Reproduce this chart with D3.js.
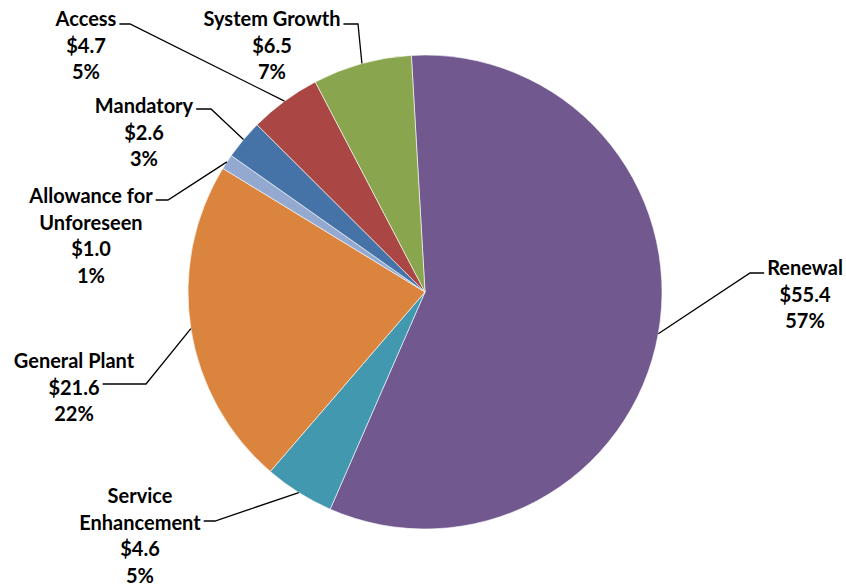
<!DOCTYPE html>
<html>
<head>
<meta charset="UTF-8">
<style>
body{
	margin: 0;
	background: #fff;
	font-family: Lato, "Open Sans", sans-serif;
}
svg{
	display: block;
}
.slice{
	stroke: #fff;
	stroke-width: 0.6;
}
.label text{
	font-size: 20px;
	font-weight: bold;
	fill: #000;
	text-anchor: middle;
	dominant-baseline: central;
}
.leader{
	fill: none;
	stroke: #000;
	stroke-width: 1.3;
}
</style>
<script src="https://cdn.jsdelivr.net/npm/d3@7"></script>
</head>
<body>
<script>
var categories = ["Renewal", "Service Enhancement", "General Plant", "Allowance for Unforeseen", "Mandatory", "Access", "System Growth"];
var values     = [55.4, 4.6, 21.6, 1.0, 2.6, 4.7, 6.5];
var percents   = ["57%", "5%", "22%", "1%", "3%", "5%", "7%"];
var colors     = ["#71588F", "#4198AF", "#DB843D", "#93A9CF", "#4572A7", "#AA4643", "#89A54E"];

// label layout: text lines, centre x, first line y, leader y, elbow x, side of the box where the leader leaves
var labelLayout = {
	"Renewal":                  {lines: ["Renewal"], x: 805, y: 267, ly: 273, side: "left", elbow: 750},
	"Service Enhancement":      {lines: ["Service", "Enhancement"], x: 140, y: 495, ly: 521, side: "right", elbow: 215},
	"General Plant":            {lines: ["General Plant"], x: 74, y: 360, ly: 384, side: "right", elbow: 146},
	"Allowance for Unforeseen": {lines: ["Allowance for", "Unforeseen"], x: 91, y: 195, ly: 200, side: "right", elbow: 168},
	"Mandatory":                {lines: ["Mandatory"], x: 144, y: 105, ly: 109, side: "right", elbow: 211},
	"Access":                   {lines: ["Access"], x: 86, y: 18, ly: 24, side: "right", elbow: 130},
	"System Growth":            {lines: ["System Growth"], x: 272, y: 18, ly: 24, side: "right", elbow: 358}
};

var width = 846, height = 585,
	cx = 425, cy = 292, radius = 237,
	lineHeight = 26.5,
	rotation = -3.3 * Math.PI / 180;

var data = categories.map(function(c, i){
	return {name: c, value: values[i], pct: percents[i], color: colors[i]};
});

var pie = d3.pie()
	.value(function(d){ return d.value; })
	.sort(null)
	.startAngle(rotation)
	.endAngle(rotation + 2 * Math.PI);

var arc = d3.arc().innerRadius(0).outerRadius(radius);
var edge = d3.arc().innerRadius(radius).outerRadius(radius);

var svg = d3.select("body").append("svg")
	.attr("width", width)
	.attr("height", height);

var g = svg.append("g")
	.attr("transform", "translate(" + cx + "," + cy + ")");

var arcs = pie(data);

g.selectAll("path.slice")
	.data(arcs)
	.enter().append("path")
	.attr("class", "slice")
	.attr("fill", function(d){ return d.data.color; })
	.attr("d", arc);

var labels = svg.selectAll("g.label")
	.data(arcs)
	.enter().append("g")
	.attr("class", "label");

labels.each(function(d){
	var L = labelLayout[d.data.name];
	var node = d3.select(this);
	var lines = L.lines.concat(["$" + d.data.value.toFixed(1), d.data.pct]);
	lines.forEach(function(t, i){
		node.append("text")
			.attr("x", L.x)
			.attr("y", L.y + i * lineHeight)
			.text(t);
	});
	// the leader leaves from the line that sits on its row
	var row = Math.round((L.ly - L.y) / lineHeight);
	var rowW = node.selectAll("text").nodes()[row].getComputedTextLength();
	var startX = L.side === "right" ? L.x + rowW / 2 + 3 : L.x - rowW / 2 - 3;
	var p = edge.centroid(d);
	svg.append("polyline")
		.attr("class", "leader")
		.attr("points", [[startX, L.ly], [L.elbow, L.ly], [cx + p[0], cy + p[1]]].map(function(q){ return q.join(","); }).join(" "));
});
</script>
</body>
</html>
